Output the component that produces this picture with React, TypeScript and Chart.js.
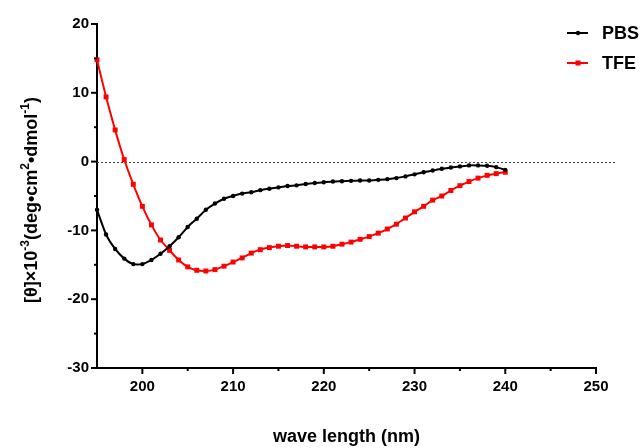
import React, { useEffect, useRef } from "react";
import { Chart, registerables } from "chart.js";

Chart.register(...registerables);

const wavelengths: number[] = [
  195, 196, 197, 198, 199, 200, 201, 202, 203, 204, 205, 206, 207, 208, 209, 210,
  211, 212, 213, 214, 215, 216, 217, 218, 219, 220, 221, 222, 223, 224, 225, 226,
  227, 228, 229, 230, 231, 232, 233, 234, 235, 236, 237, 238, 239, 240,
];

const pbsValues: number[] = [
  -7.0, -10.6, -12.7, -14.1, -14.9, -14.9, -14.3, -13.4, -12.3, -11.0, -9.5, -8.3,
  -7.0, -6.1, -5.4, -5.0, -4.65, -4.45, -4.15, -3.95, -3.75, -3.55, -3.45, -3.25,
  -3.1, -3.0, -2.9, -2.85, -2.8, -2.75, -2.75, -2.65, -2.55, -2.4, -2.15, -1.85,
  -1.55, -1.3, -1.05, -0.85, -0.7, -0.55, -0.55, -0.6, -0.8, -1.2,
];

const tfeValues: number[] = [
  14.8, 9.4, 4.6, 0.3, -3.3, -6.5, -9.2, -11.4, -12.9, -14.3, -15.3, -15.8, -15.9,
  -15.7, -15.2, -14.6, -14.0, -13.3, -12.8, -12.5, -12.3, -12.2, -12.3, -12.4,
  -12.4, -12.4, -12.3, -12.0, -11.7, -11.3, -10.9, -10.4, -9.8, -9.1, -8.2, -7.3,
  -6.5, -5.6, -5.0, -4.2, -3.5, -2.9, -2.4, -2.0, -1.75, -1.55,
];

const seriesNames: string[] = ["PBS", "TFE"];
const seriesColors: string[] = ["#000000", "#ff0000"];
const xTitle = "wave length (nm)";
const yTitleParts: { t: string; sup: boolean }[] = [
  { t: "[θ]×10", sup: false },
  { t: "-3", sup: true },
  { t: "(deg•cm", sup: false },
  { t: "2", sup: true },
  { t: "•dmol", sup: false },
  { t: "-1", sup: true },
  { t: ")", sup: false },
];

const FONT = "'Liberation Sans', Arial, Helvetica, sans-serif";

const decorPlugin = {
  id: "decor",
  beforeDatasetsDraw(chart: any) {
    const { ctx, chartArea, scales } = chart;
    const y0 = scales.y.getPixelForValue(0);
    ctx.save();
    ctx.strokeStyle = "#444";
    ctx.lineWidth = 1;
    ctx.setLineDash([2, 2]);
    ctx.beginPath();
    ctx.moveTo(chartArea.left, Math.round(y0) + 0.5);
    ctx.lineTo(chartArea.right + 21, Math.round(y0) + 0.5);
    ctx.stroke();
    ctx.restore();
  },
  afterDraw(chart: any) {
    const { ctx, chartArea, scales } = chart;
    ctx.save();
    ctx.strokeStyle = "#000";
    ctx.lineWidth = 2;
    // x ticks
    scales.x.ticks.forEach((tk: any) => {
      const v = tk.value;
      if (v === scales.x.min) return;
      const px = scales.x.getPixelForValue(v);
      const len = v % 10 === 0 ? 6 : 3;
      ctx.beginPath();
      ctx.moveTo(px, chartArea.bottom);
      ctx.lineTo(px, chartArea.bottom + len);
      ctx.stroke();
    });
    // y ticks
    scales.y.ticks.forEach((tk: any) => {
      const v = tk.value;
      const py = scales.y.getPixelForValue(v);
      const len = v % 10 === 0 ? 6 : 3;
      ctx.beginPath();
      ctx.moveTo(chartArea.left, py);
      ctx.lineTo(chartArea.left - len, py);
      ctx.stroke();
    });
    ctx.restore();

    // y title with superscripts
    ctx.save();
    const mainFont = `bold 18px ${FONT}`;
    const supFont = `bold 12px ${FONT}`;
    let total = 0;
    yTitleParts.forEach((p) => {
      ctx.font = p.sup ? supFont : mainFont;
      total += ctx.measureText(p.t).width;
    });
    const cy = (chartArea.top + chartArea.bottom) / 2 + 4;
    ctx.translate(37, cy);
    ctx.rotate(-Math.PI / 2);
    ctx.fillStyle = "#000";
    ctx.textBaseline = "alphabetic";
    ctx.textAlign = "left";
    let x = -total / 2;
    yTitleParts.forEach((p) => {
      ctx.font = p.sup ? supFont : mainFont;
      ctx.fillText(p.t, x, p.sup ? -8 : 0);
      x += ctx.measureText(p.t).width;
    });
    ctx.restore();

    // legend
    ctx.save();
    const legendY = [33, 63];
    chart.data.datasets.forEach((ds: any, i: number) => {
      const y = legendY[i];
      ctx.strokeStyle = ds.borderColor;
      ctx.fillStyle = ds.borderColor;
      ctx.lineWidth = 2;
      ctx.beginPath();
      ctx.moveTo(567, y);
      ctx.lineTo(588, y);
      ctx.stroke();
      if (ds.pointStyle === "rect") {
        ctx.fillRect(575.5, y - 2.5, 5, 5);
      } else {
        ctx.beginPath();
        ctx.arc(578, y, 2.2, 0, Math.PI * 2);
        ctx.fill();
      }
      ctx.fillStyle = "#000";
      ctx.font = `bold 18px ${FONT}`;
      ctx.textBaseline = "middle";
      ctx.textAlign = "left";
      ctx.fillText(ds.label, 602, y + 1);
    });
    ctx.restore();
  },
};

export default function App() {
  const ref = useRef<HTMLCanvasElement | null>(null);
  useEffect(() => {
    document.body.style.margin = "0";
    const canvas = ref.current;
    if (!canvas) return;
    const pbs = wavelengths.map((w, i) => ({ x: w, y: pbsValues[i] }));
    const tfe = wavelengths.map((w, i) => ({ x: w, y: tfeValues[i] }));
    const chart = new Chart(canvas, {
      type: "line",
      data: {
        datasets: [
          {
            label: seriesNames[0],
            data: pbs,
            borderColor: seriesColors[0],
            backgroundColor: seriesColors[0],
            borderWidth: 2,
            pointStyle: "circle",
            pointRadius: 2.2,
            pointBorderWidth: 0,
            tension: 0.2,
            clip: false,
          } as any,
          {
            label: seriesNames[1],
            data: tfe,
            borderColor: seriesColors[1],
            backgroundColor: seriesColors[1],
            borderWidth: 2,
            pointStyle: "rect",
            pointRadius: 3.5,
            pointBorderWidth: 0,
            tension: 0.2,
            clip: false,
          } as any,
        ],
      },
      options: {
        responsive: false,
        animation: false,
        devicePixelRatio: 1,
        layout: { padding: { left: 0, top: 24, right: 47, bottom: 0 } },
        plugins: {
          legend: { display: false },
          tooltip: { enabled: false },
        },
        scales: {
          x: {
            type: "linear",
            min: 195,
            max: 250,
            grid: { display: false, drawTicks: false },
            border: { display: true, width: 2, color: "#000" },
            ticks: {
              stepSize: 5,
              autoSkip: false,
              maxRotation: 0,
              padding: 10,
              color: "#000",
              font: { family: FONT, size: 15, weight: "bold" },
              callback: (v: any) => (Number(v) % 10 === 0 ? String(v) : ""),
            },
            title: {
              display: true,
              text: xTitle,
              color: "#000",
              font: { family: FONT, size: 18, weight: "bold" },
              padding: { top: 0, bottom: 0 },
            },
            afterFit: (s: any) => {
              s.height = 80;
            },
          },
          y: {
            type: "linear",
            min: -30,
            max: 20,
            grid: { display: false, drawTicks: false },
            border: { display: true, width: 2, color: "#000" },
            ticks: {
              stepSize: 5,
              autoSkip: false,
              padding: 8,
              color: "#000",
              font: { family: FONT, size: 15, weight: "bold" },
              callback: (v: any) => (Number(v) % 10 === 0 ? String(v) : ""),
            },
            afterFit: (s: any) => {
              s.width = 97;
            },
          },
        },
      } as any,
      plugins: [decorPlugin],
    });
    return () => chart.destroy();
  }, []);
  return (
    <div style={{ width: 643, height: 448 }}>
      <canvas ref={ref} width={643} height={448} style={{ display: "block" }} />
    </div>
  );
}
